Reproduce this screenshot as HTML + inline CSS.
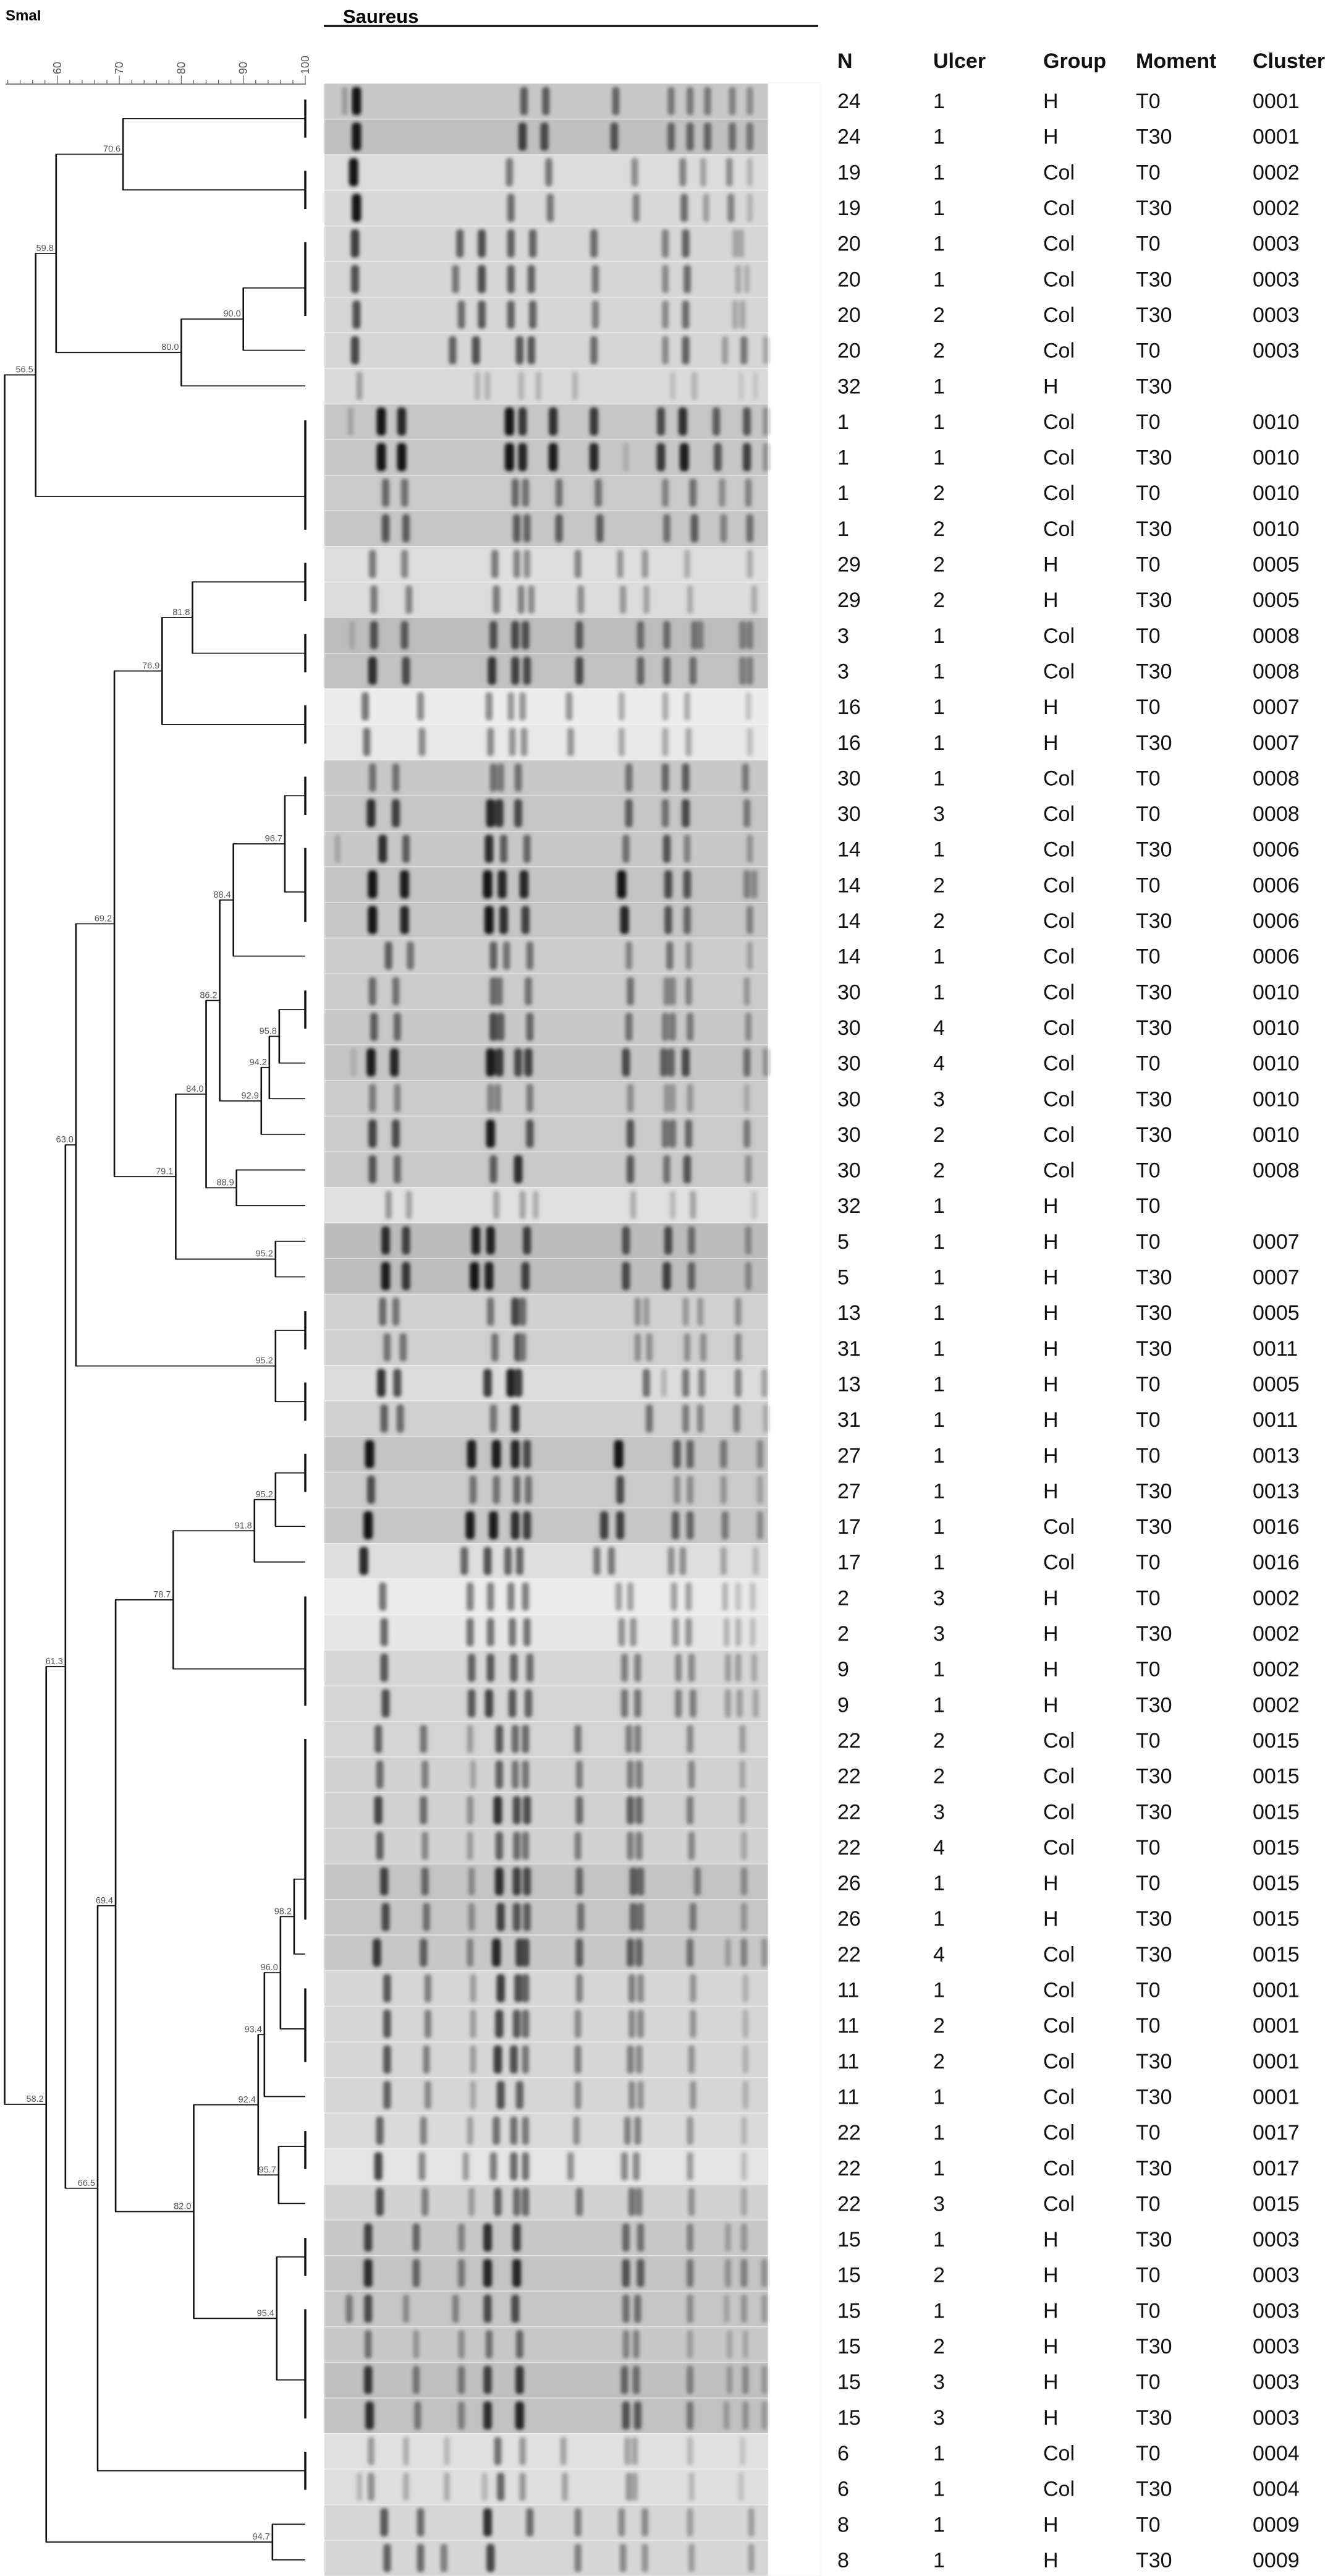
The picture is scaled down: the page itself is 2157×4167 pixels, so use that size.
<!DOCTYPE html>
<html><head><meta charset="utf-8">
<style>
html,body{margin:0;padding:0;background:#fff;}
svg{display:block;font-family:"Liberation Sans",Arial,sans-serif;}
</style></head>
<body>
<svg id="fig" width="2157" height="4167" viewBox="0 0 2157 4167" xmlns="http://www.w3.org/2000/svg">
<defs><filter id="blur" x="-50%" y="-20%" width="200%" height="140%"><feGaussianBlur stdDeviation="2.8"/></filter></defs>
<rect x="0" y="0" width="2157" height="4167" fill="#fff"/>
<text x="9" y="33" font-size="24" font-weight="bold">SmaI</text>
<text x="555" y="37" font-size="31" font-weight="bold">Saureus</text>
<line x1="524" y1="42" x2="1324" y2="42" stroke="#111" stroke-width="3.5"/>
<g id="axis"></g>
<g id="gel"></g>
<g id="tree"></g>
<g id="table"></g>
</svg>
<script>
// ---------- data ----------
const axisTicks = [60, 70, 80, 90, 100];
const colHeaders = ["N", "Ulcer", "Group", "Moment", "Cluster"];
const colN = [24,24,19,19,20,20,20,20,32,1,1,1,1,29,29,3,3,16,16,30,30,14,14,14,14,30,30,30,30,30,30,32,5,5,13,31,13,31,27,27,17,17,2,2,9,9,22,22,22,22,26,26,22,11,11,11,11,22,22,22,15,15,15,15,15,15,6,6,8,8];
const colUlcer = [1,1,1,1,1,1,2,2,1,1,1,2,2,2,2,1,1,1,1,1,3,1,2,2,1,1,4,4,3,2,2,1,1,1,1,1,1,1,1,1,1,1,3,3,1,1,2,2,3,4,1,1,4,1,2,2,1,1,1,3,1,2,1,2,3,3,1,1,1,1];
const colGroup = ["H","H","Col","Col","Col","Col","Col","Col","H","Col","Col","Col","Col","H","H","Col","Col","H","H","Col","Col","Col","Col","Col","Col","Col","Col","Col","Col","Col","Col","H","H","H","H","H","H","H","H","H","Col","Col","H","H","H","H","Col","Col","Col","Col","H","H","Col","Col","Col","Col","Col","Col","Col","Col","H","H","H","H","H","H","Col","Col","H","H"];
const colMoment = ["T0","T30","T0","T30","T0","T30","T30","T0","T30","T0","T30","T0","T30","T0","T30","T0","T30","T0","T30","T0","T0","T30","T0","T30","T0","T30","T30","T0","T30","T30","T0","T0","T0","T30","T30","T30","T0","T0","T0","T30","T30","T0","T0","T30","T0","T30","T0","T30","T30","T0","T0","T30","T30","T0","T0","T30","T30","T0","T30","T0","T30","T0","T0","T30","T0","T30","T0","T30","T0","T30"];
const colCluster = ["0001","0001","0002","0002","0003","0003","0003","0003","","0010","0010","0010","0010","0005","0005","0008","0008","0007","0007","0008","0008","0006","0006","0006","0006","0010","0010","0010","0010","0010","0008","","0007","0007","0005","0011","0005","0011","0013","0013","0016","0016","0002","0002","0002","0002","0015","0015","0015","0015","0015","0015","0015","0001","0001","0001","0001","0017","0017","0015","0003","0003","0003","0003","0003","0003","0004","0004","0009","0009"];

// leaf groups: [firstRow, lastRow, attachRow]
const leafGroups = [[1,2,1.5],[3,4,3.5],[5,7,6.25],[8,8,8],[9,9,9],[10,13,12.1],[14,15,14.5],[16,17,16.5],[18,19,18.5],[20,21,20.5],[22,24,23.2],[25,25,25],[26,27,26.5],[28,28,28],[29,29,29],[30,30,30],[31,31,31],[32,32,32],[33,33,33],[34,34,34],[35,36,35.5],[37,38,37.5],[39,40,39.5],[41,41,41],[42,42,42],[43,46,45.0],[47,52,50.9],[53,53,53],[54,56,55.1],[57,57,57],[58,59,58.4],[60,60,60],[61,62,61.5],[63,66,64.95],[67,68,67.5],[69,69,69],[70,70,70]];
const nodeIds  = ["n706","n900","n800","n598","n565","n818","n769","n967","n884","n958","n942","n929","n862","n889","n840","n952a","n791","n692","n952b","n630","n952c","n918","n787","n982","n960","n934","n957","n924","n954","n820","n694","n665","n613","n947","n582","root"];
const nodeVals = [70.6,90.0,80.0,59.8,56.5,81.8,76.9,96.7,88.4,95.8,94.2,92.9,86.2,88.9,84.0,95.2,79.1,69.2,95.2,63.0,95.2,91.8,78.7,98.2,96.0,93.4,95.7,92.4,95.4,82.0,69.4,66.5,61.3,94.7,58.2,51.5];
const nodeKids = [["g1","g3"],["g5","g8"],["n900","g9"],["n706","n800"],["n598","g10"],["g14","g16"],["n818","g18"],["g20","g22"],["n967","g25"],["g26","g28"],["n958","g29"],["n942","g30"],["n884","n929"],["g31","g32"],["n862","n889"],["g33","g34"],["n840","n952a"],["n769","n791"],["g35","g37"],["n692","n952b"],["g39","g41"],["n952c","g42"],["n918","g43"],["g47","g53"],["n982","g54"],["n960","g57"],["g58","g60"],["n934","n957"],["g61","g63"],["n924","n954"],["n787","n820"],["n694","g67"],["n630","n665"],["g69","g70"],["n613","n947"],["n565","n582"]];

const laneBg = [200,192,220,216,214,214,214,214,218,198,198,202,198,222,220,189,194,236,232,200,198,200,196,198,205,203,200,197,203,202,201,224,188,190,208,207,220,208,196,202,198,222,234,230,214,212,212,210,208,210,196,198,200,214,214,214,214,218,228,210,200,196,198,200,192,194,224,222,214,214];
const laneBands = [
"80:.25,120:1,695:.6,770:.6,1010:.55,1200:.45,1265:.45,1325:.45,1410:.4,1470:.35",
"120:1,690:.75,765:.7,1005:.65,1200:.55,1265:.55,1325:.55,1410:.5,1470:.45",
"110:1,645:.5,780:.5,1075:.4,1240:.45,1310:.3,1400:.4,1470:.2",
"120:1,650:.55,785:.5,1080:.45,1245:.55,1320:.3,1405:.45,1470:.2",
"115:.8,475:.6,550:.7,650:.6,725:.6,935:.55,1180:.45,1250:.6,1420:.25,1440:.25",
"115:.7,460:.5,550:.7,650:.6,720:.6,940:.5,1180:.4,1255:.55,1430:.25,1460:.2",
"120:.7,480:.55,550:.65,650:.6,725:.6,940:.45,1180:.4,1250:.55,1420:.25,1445:.25",
"115:.75,450:.6,530:.7,680:.65,720:.65,935:.55,1180:.4,1250:.6,1385:.3,1450:.5,1525:.25",
"130:.3,535:.2,570:.2,685:.2,745:.2,870:.2,1205:.15,1280:.2,1440:.1,1490:.1",
"100:.2,205:1,275:.9,645:1,690:.8,795:.85,935:.8,1165:.7,1240:.85,1355:.6,1460:.65,1525:.3",
"205:1,275:1,645:1,690:.9,795:.95,935:.9,1045:.15,1165:.8,1245:.95,1360:.65,1460:.75,1525:.3",
"220:.55,285:.5,665:.55,700:.5,815:.5,950:.5,1180:.4,1275:.5,1375:.35,1465:.4",
"220:.65,290:.6,670:.6,705:.55,815:.6,955:.6,1185:.5,1280:.6,1380:.4,1470:.5",
"175:.5,285:.45,595:.5,670:.45,705:.4,880:.45,1025:.35,1110:.35,1255:.25,1470:.25",
"180:.5,300:.45,600:.5,685:.45,720:.4,890:.4,1035:.35,1115:.3,1265:.25,1485:.25",
"105:.15,180:.65,285:.6,590:.65,665:.7,700:.65,885:.6,1095:.5,1185:.5,1280:.45,1300:.4,1445:.4,1470:.4",
"175:.85,290:.7,585:.8,665:.75,705:.7,885:.7,1095:.55,1185:.55,1275:.5,1445:.4,1470:.4",
"150:.55,340:.45,575:.45,650:.4,690:.4,850:.4,1030:.3,1180:.3,1255:.3,1465:.2",
"155:.55,345:.45,580:.45,655:.4,695:.4,855:.4,1030:.3,1180:.3,1260:.3,1470:.2",
"175:.5,255:.5,590:.5,615:.45,675:.5,1055:.5,1180:.55,1250:.6,1455:.45",
"170:.85,255:.75,580:.9,610:.8,675:.7,1055:.6,1180:.5,1250:.7,1460:.45",
"55:.2,210:.85,290:.6,575:.85,625:.6,705:.55,1045:.5,1185:.65,1255:.4,1470:.3",
"175:1,285:.95,570:1,620:.9,695:.9,1030:1,1190:.7,1255:.65,1460:.4,1485:.35",
"175:1,285:.9,575:1,625:.85,700:.75,1040:.9,1190:.65,1255:.55,1470:.4",
"230:.6,305:.5,590:.6,635:.5,715:.5,1055:.4,1195:.5,1260:.35,1470:.25",
"175:.55,255:.5,590:.55,610:.5,710:.5,1060:.5,1185:.4,1205:.4,1260:.4,1460:.3",
"180:.6,260:.55,590:.7,615:.6,715:.55,1055:.5,1180:.45,1205:.45,1265:.45,1465:.35",
"110:.15,170:.95,250:.9,580:.95,610:.8,675:.7,710:.75,1045:.7,1175:.6,1200:.55,1250:.7,1460:.5,1525:.3",
"175:.45,260:.4,580:.4,605:.4,715:.45,1060:.35,1185:.3,1205:.3,1265:.3,1460:.2",
"175:.75,255:.7,580:.95,715:.65,1060:.65,1180:.5,1205:.5,1260:.55,1460:.45",
"175:.65,260:.55,590:.6,675:.85,1060:.6,1185:.5,1255:.65,1465:.35",
"230:.35,300:.3,600:.3,690:.3,735:.25,1070:.25,1205:.2,1275:.3,1485:.15",
"220:.85,290:.75,530:.9,580:.9,705:.75,1045:.65,1190:.7,1270:.5,1465:.35",
"220:.95,290:.8,525:1,575:.9,700:.75,1045:.7,1185:.75,1270:.55,1465:.35",
"210:.55,255:.5,580:.5,665:.75,690:.55,1085:.35,1115:.3,1250:.3,1300:.3,1430:.35",
"225:.5,280:.5,595:.5,675:.7,690:.5,1085:.35,1125:.35,1255:.35,1310:.35,1430:.4",
"205:.85,260:.7,570:.8,650:.95,675:.8,1115:.55,1175:.2,1250:.5,1305:.45,1430:.45,1520:.3",
"215:.6,270:.55,590:.5,665:.8,1125:.5,1250:.45,1300:.4,1425:.45,1525:.2",
"165:1,515:.95,600:.95,665:.9,705:.7,1020:1,1220:.6,1265:.55,1380:.45,1505:.35",
"170:.7,520:.5,600:.5,670:.55,710:.5,1025:.7,1220:.35,1265:.35,1380:.3,1505:.25",
"160:1,510:.95,590:.95,665:.85,705:.75,970:.75,1025:.75,1215:.6,1265:.55,1385:.45,1505:.35",
"145:.9,490:.6,570:.7,640:.6,680:.6,945:.5,995:.5,1200:.4,1240:.4,1380:.3,1490:.2",
"210:.55,510:.5,580:.5,650:.5,700:.5,1020:.35,1060:.35,1210:.35,1260:.35,1385:.25,1430:.2,1480:.2",
"215:.6,510:.55,580:.55,655:.55,705:.55,1030:.4,1070:.4,1215:.4,1260:.4,1390:.25,1430:.25,1480:.2",
"215:.65,515:.6,580:.65,660:.6,715:.55,1040:.45,1085:.45,1225:.4,1270:.4,1395:.3,1430:.3,1485:.25",
"220:.7,515:.65,575:.75,655:.65,710:.6,1040:.5,1085:.5,1225:.45,1275:.45,1395:.3,1435:.3,1490:.25",
"195:.6,350:.5,510:.3,610:.65,665:.55,700:.55,880:.5,1055:.45,1085:.45,1265:.4,1445:.3",
"200:.55,355:.45,520:.25,610:.6,665:.5,700:.5,885:.45,1060:.45,1090:.45,1270:.4,1445:.25",
"195:.75,350:.55,510:.35,605:.85,670:.7,705:.7,885:.55,1060:.6,1090:.55,1265:.45,1445:.3",
"200:.6,355:.4,510:.3,610:.6,670:.55,700:.5,880:.45,1060:.45,1090:.45,1270:.4,1450:.25",
"215:.75,355:.55,515:.35,610:.85,670:.75,705:.7,885:.55,1070:.6,1095:.55,1290:.45,1450:.35",
"220:.7,360:.5,515:.35,615:.75,670:.65,705:.6,890:.5,1070:.55,1095:.5,1275:.45,1450:.3",
"190:.8,350:.6,510:.4,600:.9,680:.75,700:.7,885:.6,1060:.6,1090:.55,1265:.5,1395:.25,1450:.4,1520:.3",
"225:.65,365:.45,520:.3,615:.8,675:.7,700:.6,885:.45,1065:.45,1095:.4,1275:.35,1455:.2",
"225:.65,365:.45,520:.3,610:.75,670:.65,700:.55,880:.4,1065:.4,1095:.4,1275:.35,1455:.2",
"225:.65,360:.45,520:.3,605:.8,660:.7,700:.5,880:.45,1060:.45,1090:.4,1270:.35,1455:.2",
"225:.6,365:.4,520:.25,615:.7,680:.6,880:.4,1065:.4,1095:.35,1275:.35,1455:.2",
"200:.6,350:.45,510:.3,600:.55,660:.55,700:.5,875:.4,1050:.45,1085:.45,1265:.35,1450:.2",
"195:.75,345:.45,495:.35,590:.5,660:.6,700:.55,855:.4,1040:.45,1080:.45,1265:.35,1450:.2",
"200:.7,355:.45,515:.3,605:.6,670:.55,700:.55,885:.5,1065:.5,1090:.45,1270:.35,1450:.25",
"160:.75,325:.55,480:.4,570:.85,670:.75,1045:.55,1095:.5,1265:.4,1395:.25,1450:.3",
"160:.85,325:.55,480:.45,570:.9,670:.9,1045:.65,1095:.6,1265:.45,1395:.3,1450:.4,1520:.3",
"95:.45,160:.7,290:.35,460:.4,570:.7,665:.7,1045:.5,1085:.5,1265:.35,1390:.2,1450:.3,1520:.25",
"160:.5,325:.3,480:.35,575:.5,680:.55,1045:.4,1080:.4,1265:.25,1400:.2,1455:.2",
"160:.8,325:.45,480:.45,570:.75,680:.8,1040:.55,1080:.5,1265:.4,1400:.25,1455:.35,1520:.25",
"165:.85,330:.45,480:.4,570:.85,680:.9,1045:.65,1085:.6,1265:.45,1390:.25,1455:.3,1520:.25",
"170:.35,290:.25,430:.2,605:.55,690:.35,830:.3,1050:.3,1075:.3,1265:.2,1445:.15",
"130:.2,170:.4,290:.25,430:.25,560:.2,615:.6,690:.35,835:.3,1055:.35,1075:.3,1270:.2,1440:.15",
"215:.65,340:.55,570:.85,715:.55,880:.45,1030:.4,1110:.4,1265:.3,1475:.3",
"225:.6,340:.55,420:.45,580:.75,880:.45,1035:.4,1110:.35,1270:.3,1475:.3"
];

// ---------- scales ----------
const SVGNS = "http://www.w3.org/2000/svg";
const xSim = v => 494 - (100 - v) * 10.03;
const rowCenter = r => 105.4 + 57.65 * r;
const rowTop = r => 134.6 + 57.6 * (r - 1);
const ROWH = 57.6;
const gelX = m => 525 + (m - 10) / 1523 * 718;
function mk(tag, attrs, parent) {
  const e = document.createElementNS(SVGNS, tag);
  for (const k in attrs) e.setAttribute(k, attrs[k]);
  parent.appendChild(e);
  return e;
}

// ---------- axis ----------
const axisG = document.getElementById('axis');
const axLine = mk('line', {x1: 9, y1: 136, x2: 495, y2: 136, stroke: '#555', 'stroke-width': 1.5}, axisG);


for (let v = 52; v <= 100; v += 2) {
  const major = axisTicks.includes(v);
  const t = mk('line', {x1: xSim(v), x2: xSim(v), y1: 136, y2: major ? 122 : 129, stroke: '#666', 'stroke-width': 1.3}, axisG);
  
  
}
axisTicks.forEach(v => {
  const t = mk('text', {transform: `translate(${xSim(v) + 6},120) rotate(-90)`, 'font-size': 18, fill: '#555'}, axisG);
  t.textContent = v;
  
  
});

// ---------- gel ----------
const gelG = document.getElementById('gel');
laneBg.forEach((bg, i) => {
  const r = i + 1;
  const top = rowTop(r);
  const lane = mk('g', {}, gelG);
  
  
  mk('rect', {x: 525, y: top, width: 718, height: ROWH, fill: `rgb(${bg},${bg},${bg})`}, lane);
  mk('line', {x1: 525, x2: 1243, y1: top + 0.5, y2: top + 0.5, stroke: 'rgba(255,255,255,0.5)', 'stroke-width': 1.5}, lane);
  const bandsG = mk('g', {filter: 'url(#blur)'}, lane);
  laneBands[i].split(',').forEach(s => {
    const [m, it] = s.split(':').map(Number);
    const g = Math.round(bg * (1 - 0.9 * it));
    const w = 8 + 7 * it;
    const b = mk('rect', {x: gelX(m) - w / 2, y: top + 6, width: w, height: ROWH - 12, rx: w / 2.6, fill: `rgb(${g},${g},${g})`}, bandsG);
    
    
  });
});
const frame = mk('rect', {x: 1243, y: 134, width: 85, height: 4032, fill: 'none', stroke: '#f2f2f2', 'stroke-width': 1}, gelG);



// ---------- dendrogram ----------
const treeG = document.getElementById('tree');
const pos = {};
leafGroups.forEach(([a, b, at]) => { pos['g' + a] = {x: 494, y: rowCenter(at), a, b}; });
nodeIds.forEach((id, i) => {
  const ys = nodeKids[i].map(k => pos[k].y);
  pos[id] = {x: xSim(nodeVals[i]), y: (ys[0] + ys[1]) / 2};
});
leafGroups.forEach(([a, b]) => {
  if (a === b) return;
  const s = mk('line', {x1: 494, x2: 494, y1: rowCenter(a) - 2, y2: rowCenter(b) + 2, stroke: '#111', 'stroke-width': 3.5}, treeG);
  
  
});
nodeIds.forEach((id, i) => {
  const p = pos[id];
  const kids = nodeKids[i].map(k => pos[k]);
  const v = mk('line', {x1: p.x, x2: p.x, y1: Math.min(kids[0].y, kids[1].y), y2: Math.max(kids[0].y, kids[1].y), stroke: '#111', 'stroke-width': 2.6}, treeG);
  
  
  kids.forEach(k => {
    const h = mk('line', {x1: p.x - 1, x2: k.x, y1: k.y, y2: k.y, stroke: '#111', 'stroke-width': 1.8}, treeG);
    
    
  });
  if (id !== 'root') {
    const t = mk('text', {x: p.x - 4, y: p.y - 4, 'text-anchor': 'end', 'font-size': 14.5, fill: '#555'}, treeG);
    t.textContent = nodeVals[i].toFixed(1);
    
    
  }
});

// ---------- table ----------
const tableG = document.getElementById('table');
const colX = [1355, 1510, 1688, 1838, 2027];
colHeaders.forEach((h, c) => {
  const t = mk('text', {x: colX[c], y: 110, 'font-size': 34, 'font-weight': 'bold', fill: '#111'}, tableG);
  t.textContent = h;
  
  
});
const cols = [colN, colUlcer, colGroup, colMoment, colCluster];
for (let r = 1; r <= colN.length; r++) {
  cols.forEach((col, c) => {
    const t = mk('text', {x: colX[c], y: rowCenter(r) + 12, 'font-size': 34, fill: '#111'}, tableG);
    t.textContent = col[r - 1];
    
    
  });
}
</script>
</body></html>
